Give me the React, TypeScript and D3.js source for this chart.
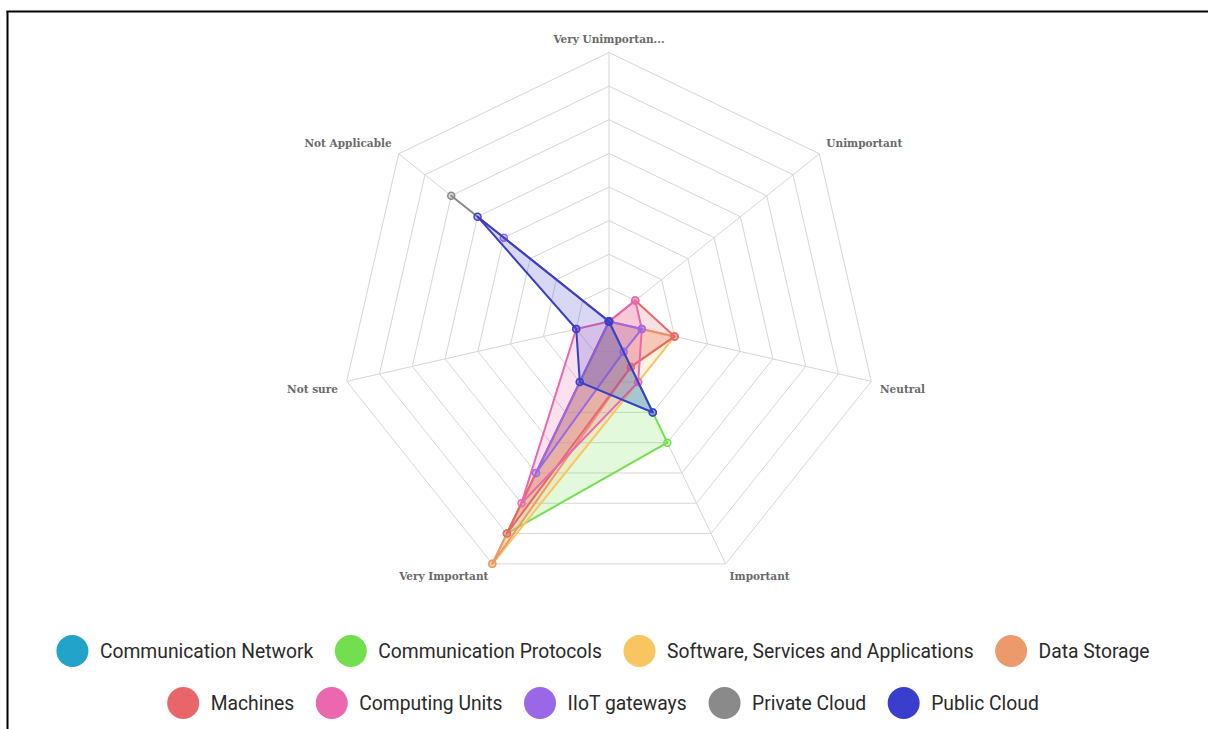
import React from "react";
import * as d3 from "d3";

const WIDTH = 1208;
const HEIGHT = 729;

const AXES = [
  "Very Unimportant",
  "Unimportant",
  "Neutral",
  "Important",
  "Very Important",
  "Not sure",
  "Not Applicable",
];

const SERIES_NAMES = [
  "Communication Network",
  "Communication Protocols",
  "Software, Services and Applications",
  "Data Storage",
  "Machines",
  "Computing Units",
  "IIoT gateways",
  "Private Cloud",
  "Public Cloud",
];

const SERIES_COLORS = [
  "#22a3c9",
  "#74df4e",
  "#f8c560",
  "#ec9a6c",
  "#e8666a",
  "#eb67ae",
  "#9a68e6",
  "#8a8a8a",
  "#3a3ecc",
];

// responses per importance level, in axis order
const communicationNetwork = [0, 0, 0, 6, 4, 0, 0];
const communicationProtocols = [0, 0, 0, 8, 14, 0, 0];
const softwareServices = [0, 0, 4, 4, 16, 0, 0];
const dataStorage = [0, 0, 4, 3, 16, 0, 0];
const machines = [0, 2, 4, 3, 14, 0, 0];
const computingUnits = [0, 2, 2, 4, 12, 2, 0];
const iiotGateways = [0, 0, 2, 2, 10, 0, 8];
const privateCloud = [0, 0, 0, 0, 0, 0, 12];
const publicCloud = [0, 0, 0, 6, 4, 2, 10];

const SERIES_VALUES = [
  communicationNetwork,
  communicationProtocols,
  softwareServices,
  dataStorage,
  machines,
  computingUnits,
  iiotGateways,
  privateCloud,
  publicCloud,
];

const MAX_VALUE = 16;
const LEVELS = 8;

const LEGEND_ROWS = [
  [0, 1, 2, 3],
  [4, 5, 6, 7, 8],
];

function truncate(label: string, n = 15) {
  return label.length > n ? label.slice(0, n) + "..." : label;
}

function measure(text: string, font: string) {
  const canvas = document.createElement("canvas");
  const ctx = canvas.getContext("2d");
  if (!ctx) return text.length * 9;
  ctx.font = font;
  return ctx.measureText(text).width;
}

export default function App() {
  const cx = 609;
  const cy = 321.5;
  const R = 269;
  const n = AXES.length;
  const angle = (i: number) => (i * 2 * Math.PI) / n;
  const r = d3.scaleLinear().domain([0, MAX_VALUE]).range([0, R]);
  const pt = (i: number, v: number): [number, number] => [
    cx + r(v) * Math.sin(angle(i)),
    cy - r(v) * Math.cos(angle(i)),
  ];

  const levelValues = d3.range(1, LEVELS + 1).map((k) => (k * MAX_VALUE) / LEVELS);
  const radial = d3
    .lineRadial<number>()
    .angle((_, i) => angle(i))
    .radius((d) => r(d))
    .curve(d3.curveLinearClosed);

  // legend layout
  const legendFontSize = 19.3;
  const legendFont = `${legendFontSize}px Roboto`;
  const dotR = 16;
  const dotGap = 11.5;
  const itemGap = 21.5;
  const legendY = [651, 703];
  const legendItems: { idx: number; x: number; y: number }[] = [];
  LEGEND_ROWS.forEach((row, ri) => {
    const widths = row.map((idx) => dotR * 2 + dotGap + measure(SERIES_NAMES[idx], legendFont));
    const total = d3.sum(widths) + itemGap * (row.length - 1);
    let x = 603 - total / 2;
    row.forEach((idx, k) => {
      legendItems.push({ idx, x, y: legendY[ri] });
      x += widths[k] + itemGap;
    });
  });

  const labelShift = (c: number) => (c > 0.99 ? -3.5 : c > 0 ? -4.5 : c > -0.5 ? 6.5 : 5.5);

  return (
    <svg
      width={WIDTH}
      height={HEIGHT}
      style={{ position: "absolute", left: 0, top: 0, background: "#fff" }}
    >
      <rect x={0} y={0} width={WIDTH} height={HEIGHT} fill="#fff" />
      {/* frame */}
      <line x1={7.5} y1={11} x2={7.5} y2={HEIGHT} stroke="#000" strokeWidth={2} />
      <line x1={6.5} y1={11.5} x2={WIDTH} y2={11.5} stroke="#000" strokeWidth={2} />

      <g>
        {levelValues.map((lv) => (
          <path
            key={lv}
            d={radial(AXES.map(() => lv)) || ""}
            transform={`translate(${cx},${cy})`}
            fill="none"
            stroke="#d6d6d6"
            strokeWidth={1}
          />
        ))}
        {AXES.map((a, i) => {
          const [x, y] = pt(i, MAX_VALUE);
          return <line key={a} x1={cx} y1={cy} x2={x} y2={y} stroke="#d6d6d6" strokeWidth={1} />;
        })}
      </g>

      <g>
        {AXES.map((a, i) => {
          const s = Math.sin(angle(i));
          const c = Math.cos(angle(i));
          const off = R + 9;
          const x = cx + off * s;
          const y = cy - off * c + labelShift(c);
          const anchor = Math.abs(s) < 0.01 ? "middle" : s > 0 ? "start" : "end";
          return (
            <text
              key={a}
              x={x}
              y={y}
              textAnchor={anchor}
              dominantBaseline="middle"
              fontFamily="'DejaVu Serif', serif"
              fontSize={10.5}
              fontWeight="bold"
              fill="#6a6a6a"
            >
              {truncate(a)}
            </text>
          );
        })}
      </g>

      <g>
        {SERIES_VALUES.map((vals, si) => (
          <g key={SERIES_NAMES[si]}>
            <path
              d={radial(vals) || ""}
              transform={`translate(${cx},${cy})`}
              fill={SERIES_COLORS[si]}
              fillOpacity={0.2}
              stroke={SERIES_COLORS[si]}
              strokeWidth={2}
              strokeLinejoin="round"
            />
            {vals.map((v, i) => {
              const [x, y] = pt(i, v);
              return (
                <circle
                  key={i}
                  cx={x}
                  cy={y}
                  r={3.5}
                  fill={SERIES_COLORS[si]}
                  fillOpacity={0.3}
                  stroke={SERIES_COLORS[si]}
                  strokeWidth={1.5}
                />
              );
            })}
          </g>
        ))}
      </g>

      <g>
        {legendItems.map(({ idx, x, y }) => (
          <g key={SERIES_NAMES[idx]}>
            <circle cx={x + dotR} cy={y} r={dotR} fill={SERIES_COLORS[idx]} />
            <text
              x={x + dotR * 2 + dotGap}
              y={y}
              dominantBaseline="central"
              fontFamily="Roboto, sans-serif"
              fontSize={legendFontSize}
              fill="#2a2a2a"
            >
              {SERIES_NAMES[idx]}
            </text>
          </g>
        ))}
      </g>
    </svg>
  );
}
